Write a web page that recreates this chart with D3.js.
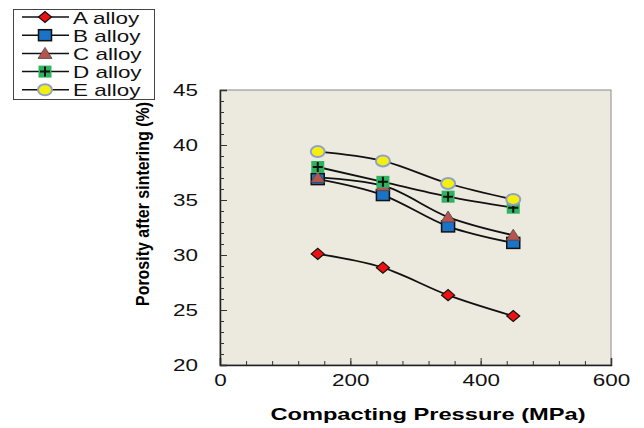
<!DOCTYPE html>
<html>
<head>
<meta charset="utf-8">
<script src="https://cdn.jsdelivr.net/npm/d3@7"></script>
<style>
  body { margin: 0; background: #fff; }
  text { font-family: "Liberation Sans", Arial, sans-serif; }
</style>
</head>
<body>
<div id="chart"></div>
<script>
// data
const pressures = [150, 250, 350, 450];
const seriesNames = ["A alloy", "B alloy", "C alloy", "D alloy", "E alloy"];
const alloyA = [30.1, 28.85, 26.35, 24.45];
const alloyB = [36.9, 35.45, 32.6, 31.1];
const alloyC = [37.05, 36.3, 33.45, 31.8];
const alloyD = [38.0, 36.65, 35.3, 34.3];
const alloyE = [39.4, 38.55, 36.5, 35.05];
const xTicks = [0, 200, 400, 600];
const yTicks = [20, 25, 30, 35, 40, 45];

const width = 644, height = 428;
const margin = { top: 90, right: 33, bottom: 63, left: 220 };
const stretch = 1.32; // the source picture is widened, text included

const svg = d3.select("#chart").append("svg")
  .attr("width", width)
  .attr("height", height);

// widen horizontal text like in the original
function widen(sel, k = stretch) {
  sel.each(function () {
    const len = this.getComputedTextLength();
    d3.select(this).attr("textLength", len * k).attr("lengthAdjust", "spacingAndGlyphs");
  });
}

const x = d3.scaleLinear().domain([0, 600]).range([margin.left, width - margin.right]);
const y = d3.scaleLinear().domain([20, 45]).range([height - margin.bottom, margin.top]);

// plot background
svg.append("rect")
  .attr("x", x(0)).attr("y", y(45))
  .attr("width", x(600) - x(0)).attr("height", y(20) - y(45))
  .attr("fill", "#ece9df")
  .attr("stroke", "#8a8a8a")
  .attr("stroke-width", 1);

// axes with inward ticks
svg.append("g")
  .attr("transform", `translate(0,${y(20)})`)
  .call(d3.axisBottom(x).tickValues(xTicks).tickSize(-7).tickPadding(9).tickFormat(d3.format("d")));
svg.append("g")
  .attr("transform", `translate(0,${y(20)})`)
  .call(d3.axisBottom(x).tickValues(d3.range(0, 601, 40)).tickSize(-4).tickFormat(""))
  .call(g => g.select(".domain").remove());

svg.append("g")
  .attr("transform", `translate(${x(0)},0)`)
  .call(d3.axisLeft(y).tickValues(yTicks).tickSize(-7).tickPadding(22));
svg.append("g")
  .attr("transform", `translate(${x(0)},0)`)
  .call(d3.axisLeft(y).tickValues(d3.range(20, 46, 1)).tickSize(-4).tickFormat(""))
  .call(g => g.select(".domain").remove());

svg.selectAll(".domain").attr("stroke", "#222").attr("stroke-width", 1.5);
svg.selectAll(".tick line").attr("stroke", "#333");
svg.selectAll(".tick text").attr("font-size", 17).attr("fill", "#111")
  .style("font-family", "'Liberation Sans', Arial, sans-serif")
  .call(widen);

// axis titles
svg.append("text")
  .attr("x", 428).attr("y", 420)
  .attr("text-anchor", "middle")
  .attr("font-size", 17).attr("font-weight", "bold")
  .text("Compacting Pressure (MPa)")
  .call(widen, 1.39);

svg.append("text")
  .attr("transform", "translate(149,204) rotate(-90)")
  .attr("text-anchor", "middle")
  .attr("font-size", 19).attr("font-weight", "bold")
  .attr("textLength", 204).attr("lengthAdjust", "spacingAndGlyphs")
  .text("Porosity after sintering (%)");

// series
const allSeries = [alloyA, alloyB, alloyC, alloyD, alloyE];
const line = d3.line()
  .x((d, i) => x(pressures[i]))
  .y(d => y(d))
  .curve(d3.curveMonotoneX);

function drawMarker(g, k, cx, cy) {
  if (k === 0) {
    g.append("path").attr("d", `M${cx - 6.5},${cy}L${cx},${cy - 5.5}L${cx + 6.5},${cy}L${cx},${cy + 5.5}Z`)
      .attr("fill", "#ee1111").attr("stroke", "#111").attr("stroke-width", 1.2);
  } else if (k === 1) {
    g.append("rect").attr("x", cx - 6.5).attr("y", cy - 5.5).attr("width", 13).attr("height", 11)
      .attr("fill", "#1a73c6").attr("stroke", "#111").attr("stroke-width", 1.5);
  } else if (k === 2) {
    g.append("path").attr("d", `M${cx - 7},${cy + 5}L${cx},${cy - 6}L${cx + 7},${cy + 5}Z`)
      .attr("fill", "#b5554d").attr("stroke", "#444").attr("stroke-width", 0.8);
  } else if (k === 3) {
    g.append("rect").attr("x", cx - 6.5).attr("y", cy - 6).attr("width", 13).attr("height", 12)
      .attr("fill", "#2fb35f").attr("stroke", "none");
    g.append("path").attr("d", `M${cx - 5},${cy}H${cx + 5}M${cx},${cy - 5}V${cy + 5}`)
      .attr("stroke", "#111").attr("stroke-width", 2);
  } else {
    g.append("ellipse").attr("cx", cx).attr("cy", cy).attr("rx", 7).attr("ry", 5.5)
      .attr("fill", "#f5ef10").attr("stroke", "#8ea2c4").attr("stroke-width", 2);
  }
}

allSeries.forEach(vals => {
  svg.append("path")
    .datum(vals)
    .attr("d", line)
    .attr("fill", "none")
    .attr("stroke", "#111")
    .attr("stroke-width", 1.8);
});
allSeries.forEach((vals, k) => {
  const g = svg.append("g");
  vals.forEach((v, i) => drawMarker(g, k, x(pressures[i]), y(v)));
});

// legend
const legend = svg.append("g");
legend.append("rect")
  .attr("x", 13.5).attr("y", 9.5).attr("width", 141).attr("height", 90)
  .attr("fill", "#fff").attr("stroke", "#444").attr("stroke-width", 1);
seriesNames.forEach((name, k) => {
  const ly = 17 + k * 18.2;
  legend.append("line").attr("x1", 22).attr("x2", 69).attr("y1", ly).attr("y2", ly)
    .attr("stroke", "#111").attr("stroke-width", 1.5);
  drawMarker(legend, k, 45, ly);
  legend.append("text").attr("x", 73).attr("y", ly + 6.5)
    .attr("font-size", 17).attr("fill", "#111").text(name)
    .call(widen);
});
</script>
</body>
</html>
